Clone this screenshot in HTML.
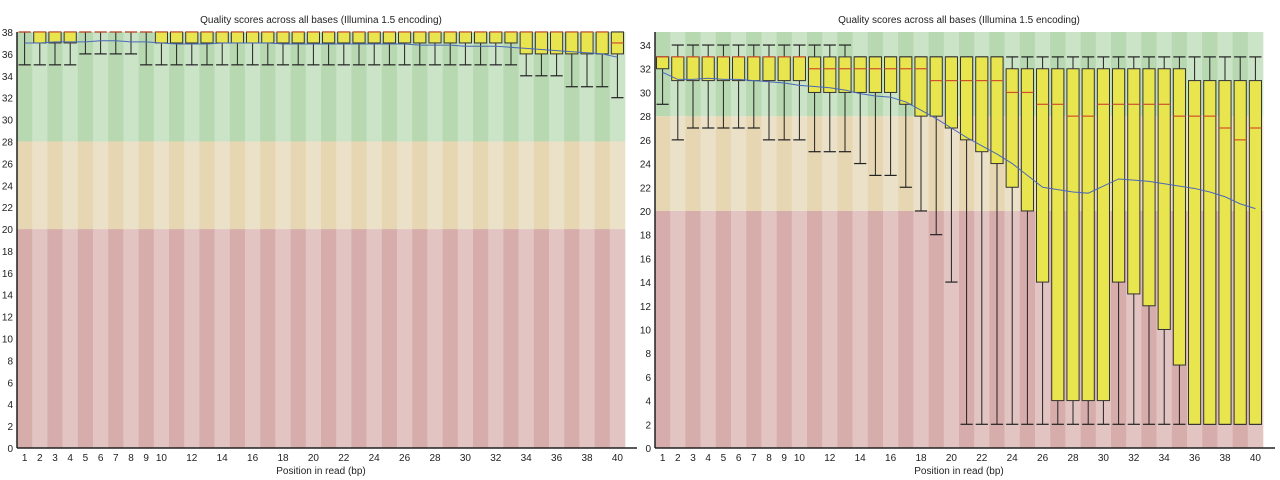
<!DOCTYPE html>
<html><head><meta charset="utf-8"><style>
html,body{margin:0;padding:0;background:#fff;}
svg{display:block;font-family:"Liberation Sans","DejaVu Sans",sans-serif;}
</style></head><body>
<svg id="chart" width="1280" height="480" viewBox="0 0 1280 480"></svg>
<script>
// Left chart data (positions 1..40)
const positions = Array.from({length:40},(_,i)=>i+1);
const leftLow  = [35,35,35,35,36,36,36,36,35,35,35,35,35,35,35,35,35,35,35,35,35,35,35,35,35,35,35,35,35,35,35,35,35,34,34,34,33,33,33,32];
const leftQ1   = [38,37,37,37,38,38,38,38,38,37,37,37,37,37,37,37,37,37,37,37,37,37,37,37,37,37,37,37,37,37,37,37,37,36,36,36,36,36,36,36];
const leftMed  = [38,38,38,38,38,38,38,38,38,38,38,38,38,38,38,38,38,38,38,38,38,38,38,38,38,38,38,38,38,38,38,38,38,38,38,38,38,38,38,37];
const leftQ3   = [38,38,38,38,38,38,38,38,38,38,38,38,38,38,38,38,38,38,38,38,38,38,38,38,38,38,38,38,38,38,38,38,38,38,38,38,38,38,38,38];
const leftHigh = [38,38,38,38,38,38,38,38,38,38,38,38,38,38,38,38,38,38,38,38,38,38,38,38,38,38,38,38,38,38,38,38,38,38,38,38,38,38,38,38];
const leftMean = [37.0,37.0,37.1,37.1,37.1,37.2,37.2,37.1,37.1,37.0,36.9,36.9,36.9,37.0,37.0,37.0,37.0,36.9,36.9,36.9,36.9,36.9,36.9,36.9,36.9,36.9,36.8,36.8,36.8,36.7,36.7,36.7,36.6,36.5,36.4,36.3,36.2,36.1,36.0,35.7];
// Right chart data
const rightLow  = [29,26,27,27,27,27,27,26,26,26,25,25,25,24,23,23,22,20,18,14,2,2,2,2,2,2,2,2,2,2,2,2,2,2,2,2,2,2,2,2];
const rightQ1   = [32,31,31,31,31,31,31,31,31,31,30,30,30,30,30,30,29,28,28,27,26,25,24,22,20,14,4,4,4,4,14,13,12,10,7,2,2,2,2,2];
const rightMed  = [33,33,33,33,33,33,33,33,33,33,32,32,32,32,32,32,32,32,31,31,31,31,31,30,30,29,29,28,28,29,29,29,29,29,28,28,28,27,26,27];
const rightQ3   = [33,33,33,33,33,33,33,33,33,33,33,33,33,33,33,33,33,33,33,33,33,33,33,32,32,32,32,32,32,32,32,32,32,32,32,31,31,31,31,31];
const rightHigh = [33,34,34,34,34,34,34,34,34,34,34,34,34,33,33,33,33,33,33,33,33,33,33,33,33,33,33,33,33,33,33,33,33,33,33,33,33,33,33,33];
const rightMean = [31.7,31.1,31.1,31.2,31.1,31.1,31.0,30.9,30.8,30.6,30.5,30.4,30.2,29.9,29.7,29.6,29.2,28.5,27.8,27.0,26.2,25.5,24.8,24.0,23.0,22.0,21.8,21.6,21.5,22.1,22.7,22.6,22.5,22.3,22.1,21.9,21.6,21.2,20.6,20.2];
const leftYTicks  = [0,2,4,6,8,10,12,14,16,18,20,22,24,26,28,30,32,34,36,38];
const rightYTicks = [0,2,4,6,8,10,12,14,16,18,20,22,24,26,28,30,32,34];
const xTickLabels = [1,2,3,4,5,6,7,8,9,10,12,14,16,18,20,22,24,26,28,30,32,34,36,38,40];

const svg = document.getElementById('chart');
const NS = 'http://www.w3.org/2000/svg';
function mk(tag, attrs, parent){const e=document.createElementNS(NS,tag);for(const k in attrs)e.setAttribute(k,attrs[k]);(parent||svg).appendChild(e);return e;}

function drawChart(opt){
  const g = mk('g',{});
  
  
  const n = positions.length, cw = (opt.x1-opt.x0)/n;
  const y = v => opt.yb - (v/opt.ymax)*(opt.yb-opt.yt);
  const xc = p => opt.x0 + cw*(p-0.5);
  // background stripes
  const zones=[[0,20,'#d7adab','#e2c5c3'],[20,28,'#e6d6b2','#ebe0c8'],[28,opt.ymax,'#b7d8b1','#cbe3c6']];
  positions.forEach((p,i)=>{
    zones.forEach(z=>{
      const r=mk('rect',{x:opt.x0+cw*i,y:y(z[1]),width:cw+0.3,height:y(z[0])-y(z[1]),fill:(i%2===0)?z[2]:z[3]},g);
      
      
    });
  });
  // boxes
  positions.forEach((p,i)=>{
    const bx = mk('g',{},g);
    
    
    const cx=xc(p), hw=cw*0.4;
    mk('line',{x1:cx,x2:cx,y1:y(opt.high[i]),y2:y(opt.low[i]),stroke:'#222','stroke-width':1},bx);
    mk('line',{x1:cx-hw,x2:cx+hw,y1:y(opt.low[i]),y2:y(opt.low[i]),stroke:'#222','stroke-width':1.2},bx);
    mk('line',{x1:cx-hw,x2:cx+hw,y1:y(opt.high[i]),y2:y(opt.high[i]),stroke:'#222','stroke-width':1.2},bx);
    if(opt.q3[i]>opt.q1[i]) mk('rect',{x:cx-hw,y:y(opt.q3[i]),width:hw*2,height:y(opt.q1[i])-y(opt.q3[i]),fill:'#e8e54e',stroke:'#333','stroke-width':1},bx);
    mk('line',{x1:cx-hw,x2:cx+hw,y1:y(opt.med[i]),y2:y(opt.med[i]),stroke:'#d0502a','stroke-width':1.2},bx);
  });
  // mean line
  const pl=mk('polyline',{points:positions.map((p,i)=>xc(p)+','+y(opt.mean[i])).join(' '),fill:'none',stroke:'#4a68b8','stroke-width':1},g);
  
  
  // axes
  mk('line',{x1:opt.x0,x2:opt.x0,y1:opt.yt,y2:opt.yb,stroke:'#222','stroke-width':1.5},g);
  mk('line',{x1:opt.x0,x2:opt.x1+12,y1:opt.yb,y2:opt.yb,stroke:'#222','stroke-width':1.5},g);
  opt.yticks.forEach(v=>{
    const t=mk('text',{x:opt.x0-4,y:y(v)+4,'font-size':10,'text-anchor':'end',fill:'#222'},g);
    t.textContent=v;
    
    
  });
  xTickLabels.forEach(v=>{
    const t=mk('text',{x:xc(v),y:opt.yb+13,'font-size':10,'text-anchor':'middle',fill:'#222'},g);
    t.textContent=v;
    
    
  });
  const tt=mk('text',{x:(opt.x0+opt.x1)/2,y:23,'font-size':10,'text-anchor':'middle',fill:'#222'},g);
  tt.textContent='Quality scores across all bases (Illumina 1.5 encoding)';
  
  
  const xt=mk('text',{x:(opt.x0+opt.x1)/2,y:474,'font-size':10,'text-anchor':'middle',fill:'#222'},g);
  xt.textContent='Position in read (bp)';
  
  
}
drawChart({name:'left-chart',x0:17,x1:625,yt:32,yb:448,ymax:38,yticks:leftYTicks,low:leftLow,q1:leftQ1,med:leftMed,q3:leftQ3,high:leftHigh,mean:leftMean});
drawChart({name:'right-chart',x0:655,x1:1263,yt:32,yb:448,ymax:35.1,yticks:rightYTicks,low:rightLow,q1:rightQ1,med:rightMed,q3:rightQ3,high:rightHigh,mean:rightMean});
</script>
</body></html>
